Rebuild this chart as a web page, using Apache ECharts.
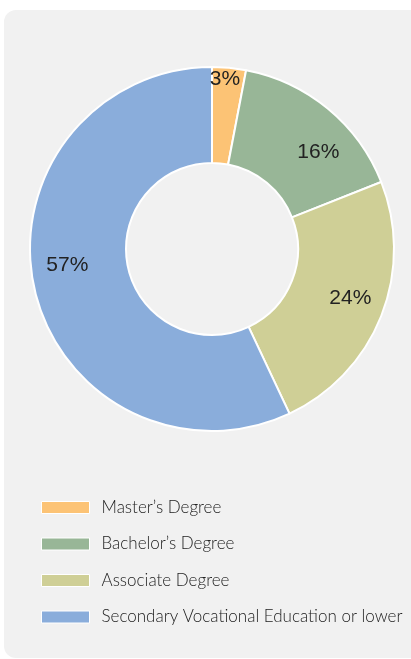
<!DOCTYPE html>
<html>
<head>
<meta charset="utf-8">
<script src="https://cdn.jsdelivr.net/npm/echarts@6/dist/echarts.min.js"></script>
<style>
  html, body { margin: 0; padding: 0; background: #fff; }
  #chart { width: 411px; height: 659px; }
</style>
</head>
<body>
<div id="chart"></div>
<script>
// education levels, share in percent
var categories = ['Master\u2019s Degree', 'Bachelor\u2019s Degree', 'Associate Degree', 'Secondary Vocational Education or lower'];
var shares = [3, 16, 24, 57];
var colors = ['#fcc375', '#98b697', '#cfcf96', '#8aaddb'];

// nudges so the % labels land where the original put them (not on the ring's mid line)
var labelNudge = [[0, -33], [19, 9], [11, -1], [-11, -14]];

var chart = echarts.init(document.getElementById('chart'));

var pieData = categories.map(function (name, i) {
  return { name: name, value: shares[i], itemStyle: { color: colors[i] } };
});

var option = {
  animation: false,
  graphic: [{
    type: 'rect',
    left: 4, top: 10, z: -10,
    shape: { width: 440, height: 648, r: 12 },
    style: { fill: '#f1f1f1' },
    silent: true
  }],
  legend: {
    orient: 'vertical',
    left: 41,
    top: 499,
    padding: 0,
    icon: 'rect',
    itemWidth: 48,
    itemHeight: 12,
    itemGap: 19.5,
    selectedMode: false,
    itemStyle: { borderWidth: 1, borderColor: '#fff' },
    textStyle: {
      fontFamily: 'Lato, "Noto Sans", sans-serif',
      fontWeight: 300,
      fontSize: 17,
      lineHeight: 16,
      color: '#222',
      padding: [0, 0, 0, 7]
    },
    data: categories
  },
  series: [
    {
      name: 'share',
      type: 'pie',
      center: [212, 249],
      radius: [86, 182],
      startAngle: 90,
      clockwise: true,
      silent: true,
      itemStyle: { borderColor: '#fff', borderWidth: 2 },
      label: {
        show: true,
        position: 'inside',
        formatter: '{c}%',
        fontFamily: '"Liberation Sans", Arial, sans-serif',
        fontSize: 21,
        color: '#222'
      },
      labelLine: { show: false },
      labelLayout: function (params) {
        var n = labelNudge[params.dataIndex];
        return { dx: n[0], dy: n[1] };
      },
      data: pieData
    }
  ]
};

chart.setOption(option);
</script>
</body>
</html>
